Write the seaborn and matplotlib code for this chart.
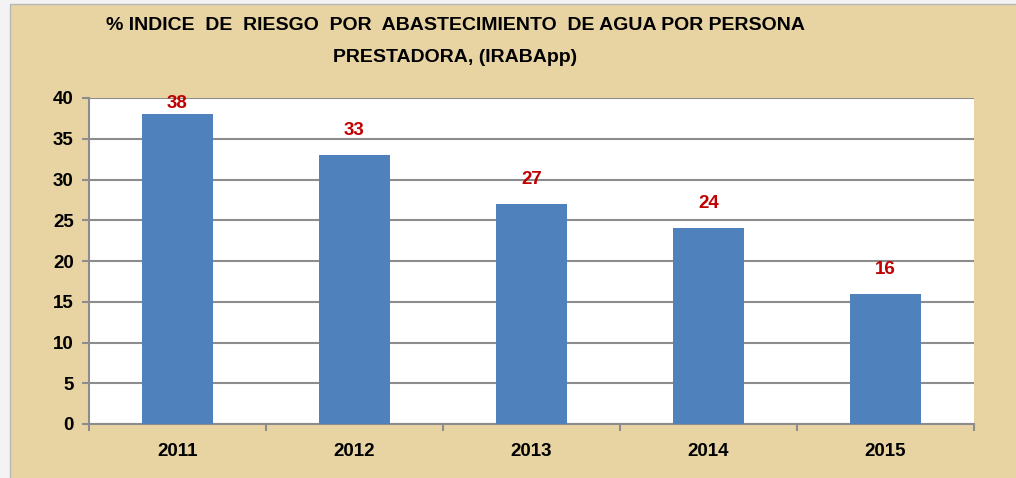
import numpy as np
import pandas as pd
import matplotlib
matplotlib.use("Agg")
import matplotlib.pyplot as plt
import seaborn as sns
from matplotlib.patches import Rectangle

# data
years = ["2011", "2012", "2013", "2014", "2015"]
values = [38, 33, 27, 24, 16]

df = pd.DataFrame({"year": years, "value": values})

sns.set_style("white")
plt.rcParams['font.family'] = ['Liberation Sans', 'DejaVu Sans']
plt.rcParams['text.color'] = 'black'
plt.rcParams['xtick.color'] = 'black'
plt.rcParams['ytick.color'] = 'black'

fig = plt.figure(figsize=(10.16, 4.78), dpi=100)
fig.patch.set_facecolor("#e8d4a3")
# light frame strip on left / top
fig.patches.append(Rectangle((0, 0), 10 / 1016, 1, transform=fig.transFigure,
                             facecolor="#f3f3f3", edgecolor="none", zorder=-1))
fig.patches.append(Rectangle((0, 1 - 4 / 478), 1, 4 / 478, transform=fig.transFigure,
                             facecolor="#f3f3f3", edgecolor="none", zorder=-1))
fig.add_artist(plt.Line2D([10 / 1016, 10 / 1016], [0, 1 - 4 / 478], transform=fig.transFigure,
                          color="#b8b8b8", lw=1))
fig.add_artist(plt.Line2D([10 / 1016, 1], [1 - 4 / 478, 1 - 4 / 478], transform=fig.transFigure,
                          color="#b8b8b8", lw=1))

ax = fig.add_axes([89 / 1016, 1 - 424 / 478, (974 - 89) / 1016, (424 - 98) / 478])
ax.set_facecolor("white")

sns.barplot(data=df, x="year", y="value", color="#4f81bd", width=0.4,
            saturation=1, linewidth=0, ax=ax, zorder=3)

ax.set_xlim(-0.5, 4.5)
ax.set_ylim(0, 40)
ax.set_yticks(np.arange(0, 41, 5))
ax.grid(axis="y", color="#8c8c8c", lw=1.5, zorder=0)
ax.set_axisbelow(True)

for s in ["top", "right"]:
    ax.spines[s].set_visible(False)
for s in ["left", "bottom"]:
    ax.spines[s].set_color("#8c8c8c")
    ax.spines[s].set_linewidth(1.5)

ax.set_xlabel("")
ax.set_ylabel("")
ax.tick_params(axis="x", which="major", bottom=True, length=0, pad=14, labelsize=13.5)
ax.set_xticks(np.arange(-0.5, 5, 1), minor=True)
ax.tick_params(axis="x", which="minor", bottom=True, length=5, width=1.5,
               color="#8c8c8c", direction="out")
ax.tick_params(axis="y", left=True, length=5, width=1.5, color="#8c8c8c",
               direction="out", pad=6, labelsize=13.5)
for lab in ax.get_xticklabels() + ax.get_yticklabels():
    lab.set_fontweight("bold")
    lab.set_color("black")

for i, v in enumerate(values):
    ax.text(i, min(v + 3, 39.3), str(v), ha="center", va="center",
            color="#c00000", fontsize=13.5, fontweight="bold", zorder=4)

fig.text(455 / 1016, 1 - 26 / 478, "% INDICE  DE  RIESGO  POR  ABASTECIMIENTO  DE AGUA POR PERSONA",
         ha="center", va="center", fontsize=14, fontweight="bold")
fig.text(455 / 1016, 1 - 57 / 478, "PRESTADORA, (IRABApp)",
         ha="center", va="center", fontsize=14, fontweight="bold")

fig.savefig("out.png", dpi=100, facecolor=fig.get_facecolor())
